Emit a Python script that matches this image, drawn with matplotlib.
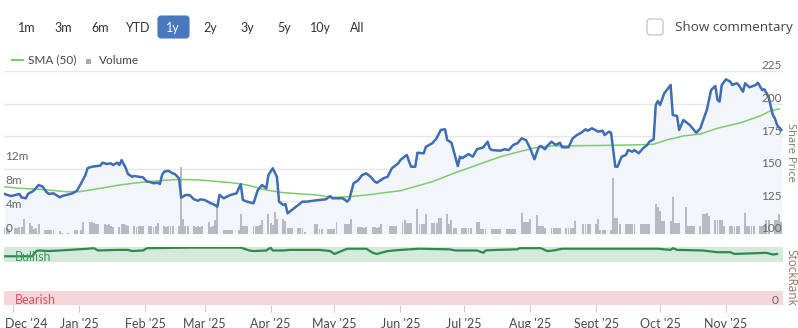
import matplotlib
matplotlib.use('Agg')
import matplotlib.pyplot as plt
import matplotlib.transforms as mtrans
from matplotlib.patches import FancyBboxPatch, Rectangle
from matplotlib.lines import Line2D
import pandas as pd

plt.rcParams['font.family'] = ['Lato', 'DejaVu Sans']

W, H = 798, 328

# closing share price (p)
price_dates = [
    '2024-11-27', '2024-11-30', '2024-12-02', '2024-12-04', '2024-12-05', '2024-12-07', '2024-12-08',
    '2024-12-09', '2024-12-10', '2024-12-11', '2024-12-13', '2024-12-15', '2024-12-16', '2024-12-17',
    '2024-12-18', '2024-12-20', '2024-12-22', '2024-12-23', '2024-12-24', '2024-12-26', '2024-12-29',
    '2024-12-31', '2025-01-02', '2025-01-04', '2025-01-05', '2025-01-07', '2025-01-11', '2025-01-12',
    '2025-01-14', '2025-01-16', '2025-01-17', '2025-01-19', '2025-01-20', '2025-01-21', '2025-01-23',
    '2025-01-24', '2025-01-26', '2025-01-27', '2025-01-29', '2025-01-31', '2025-02-02', '2025-02-03',
    '2025-02-05', '2025-02-07', '2025-02-08', '2025-02-09', '2025-02-10', '2025-02-12', '2025-02-14',
    '2025-02-15', '2025-02-17', '2025-02-18', '2025-02-20', '2025-02-22', '2025-02-24', '2025-02-26',
    '2025-02-27', '2025-03-01', '2025-03-04', '2025-03-05', '2025-03-07', '2025-03-08', '2025-03-10',
    '2025-03-13', '2025-03-16', '2025-03-18', '2025-03-19', '2025-03-21', '2025-03-24', '2025-03-26',
    '2025-03-28', '2025-03-30', '2025-03-31', '2025-04-02', '2025-04-04', '2025-04-05', '2025-04-07',
    '2025-04-08', '2025-04-09', '2025-04-12', '2025-04-13', '2025-04-16', '2025-04-18', '2025-04-21',
    '2025-04-24', '2025-04-27', '2025-04-29', '2025-04-30', '2025-05-03', '2025-05-05', '2025-05-07',
    '2025-05-08', '2025-05-10', '2025-05-12', '2025-05-14', '2025-05-16', '2025-05-18', '2025-05-20',
    '2025-05-21', '2025-05-24', '2025-05-26', '2025-05-28', '2025-05-31', '2025-06-01', '2025-06-04',
    '2025-06-06', '2025-06-08', '2025-06-09', '2025-06-12', '2025-06-13', '2025-06-16', '2025-06-18',
    '2025-06-20', '2025-06-22', '2025-06-23', '2025-06-25', '2025-06-28', '2025-06-29', '2025-06-30',
    '2025-07-03', '2025-07-05', '2025-07-07', '2025-07-10', '2025-07-12', '2025-07-13', '2025-07-14',
    '2025-07-18', '2025-07-20', '2025-07-22', '2025-07-24', '2025-07-26', '2025-07-28', '2025-07-30',
    '2025-08-01', '2025-08-03', '2025-08-05', '2025-08-06', '2025-08-08', '2025-08-09', '2025-08-11',
    '2025-08-13', '2025-08-15', '2025-08-16', '2025-08-19', '2025-08-21', '2025-08-23', '2025-08-25',
    '2025-08-27', '2025-08-28', '2025-08-30', '2025-09-02', '2025-09-04', '2025-09-05', '2025-09-07',
    '2025-09-08', '2025-09-10', '2025-09-11', '2025-09-13', '2025-09-15', '2025-09-16', '2025-09-18',
    '2025-09-19', '2025-09-21', '2025-09-23', '2025-09-25', '2025-09-26', '2025-09-28', '2025-09-29',
    '2025-09-30', '2025-10-01', '2025-10-03', '2025-10-06', '2025-10-07', '2025-10-09', '2025-10-10',
    '2025-10-12', '2025-10-15', '2025-10-18', '2025-10-20', '2025-10-21', '2025-10-23', '2025-10-25',
    '2025-10-27', '2025-10-28', '2025-10-29', '2025-10-30', '2025-11-01', '2025-11-03', '2025-11-04',
    '2025-11-06', '2025-11-07', '2025-11-09', '2025-11-10', '2025-11-12', '2025-11-15', '2025-11-16',
    '2025-11-18', '2025-11-19', '2025-11-21', '2025-11-23', '2025-11-24', '2025-11-25', '2025-11-27',
]
price_close = [
    130.7, 129.1, 129.9, 130.7, 128.1, 127.4, 130.7,
    131.7, 132.4, 133.7, 137.6, 136.3, 133.7, 131.7,
    130.7, 131.2, 129.1, 128.1, 129.1, 129.9, 131.2,
    133.2, 138.9, 145.2, 150.4, 151.6, 152.4, 154.7,
    153.7, 154.2, 152.9, 154.7, 152.9, 156.7, 150.4,
    146.0, 143.9, 144.5, 143.9, 143.5, 140.1, 140.1,
    138.9, 139.3, 138.3, 145.2, 147.8, 148.5, 146.5,
    146.0, 142.7, 127.8, 129.9, 129.9, 126.6, 125.5,
    126.6, 126.1, 123.5, 123.0, 120.9, 129.9, 127.4,
    129.9, 131.2, 138.3, 126.1, 124.8, 123.5, 133.7,
    137.6, 135.0, 145.2, 150.4, 143.9, 124.8, 122.2,
    123.0, 115.9, 119.7, 120.9, 124.8, 124.8, 125.5,
    126.1, 126.6, 129.1, 127.4, 127.4, 127.4, 124.8,
    126.6, 138.9, 140.9, 145.2, 146.5, 143.9, 140.1,
    139.3, 142.7, 143.9, 150.4, 154.2, 156.7, 160.6,
    151.6, 151.6, 162.3, 161.9, 166.9, 169.6, 173.4,
    179.8, 180.3, 172.1, 170.0, 152.1, 159.3, 158.1,
    161.3, 159.3, 165.0, 166.5, 170.8, 165.7, 164.4,
    163.9, 165.0, 164.4, 168.3, 169.6, 173.4, 172.1,
    165.7, 157.3, 166.5, 167.5, 165.0, 167.5, 170.8,
    168.3, 170.0, 166.5, 166.5, 173.4, 175.9, 177.7,
    180.3, 179.2, 181.1, 178.5, 179.2, 175.9, 178.5,
    177.7, 151.6, 151.6, 159.3, 160.6, 164.4, 163.1,
    164.4, 161.9, 165.7, 168.3, 170.8, 172.6, 198.9,
    202.0, 198.9, 207.9, 214.3, 191.3, 190.5, 179.8,
    187.4, 183.6, 177.7, 181.1, 186.1, 195.1, 210.4,
    213.5, 202.8, 201.5, 214.3, 218.6, 216.8, 214.3,
    215.6, 214.3, 209.1, 215.6, 212.5, 214.3, 216.0,
    210.4, 211.0, 205.3, 191.3, 188.7, 183.6, 179.8,
]

# 50-day simple moving average
sma_dates = [
    '2024-11-27', '2024-12-04', '2024-12-14', '2024-12-26', '2025-01-01', '2025-01-11', '2025-01-20',
    '2025-01-30', '2025-02-08', '2025-02-17', '2025-02-27', '2025-03-14', '2025-03-21', '2025-03-30',
    '2025-04-07', '2025-04-23', '2025-04-30', '2025-05-08', '2025-05-16', '2025-06-01', '2025-06-16',
    '2025-06-26', '2025-07-18', '2025-08-02', '2025-08-10', '2025-09-03', '2025-09-18', '2025-09-28',
    '2025-10-04', '2025-10-12', '2025-10-20', '2025-10-28', '2025-11-08', '2025-11-17', '2025-11-22',
    '2025-11-26',
]
sma_50 = [
    136.3, 135.0, 134.3, 132.4, 132.4, 135.0, 137.6,
    139.6, 140.9, 141.9, 141.4, 139.3, 137.6, 133.7,
    131.7, 129.9, 128.1, 128.6, 129.9, 133.2, 140.1,
    146.5, 159.3, 165.7, 167.5, 167.9, 168.3, 168.8,
    172.1, 175.2, 176.7, 181.1, 185.4, 190.5, 194.6,
    195.9,
]

# daily traded volume (millions of shares), one per business day
volume_dates = pd.bdate_range('2024-11-27', '2025-11-27')
volume_m = [
    1.0, 1.0, 0.9,
    1.0, 1.0, 1.1, 1.2, 2.5,   1.9, 1.4, 0.8, 1.0, 1.7,   0.6, 0.6, 0.6, 0.7, 0.6,
    0.5, 0.2, 0.0, 0.0, 0.2,   0.6, 0.6, 0.0, 0.6, 2.0,   2.0, 2.0, 1.9, 1.6, 1.6,
    1.6, 1.5, 1.6, 1.4, 1.2,   1.2, 1.7, 1.7, 1.5, 1.3,   1.3, 1.2, 1.4, 1.3, 1.3,
    1.3, 1.4, 1.2, 1.3, 1.9,   1.3, 1.2, 1.3, 1.4, 1.3,   1.3, 11.1, 2.5, 1.4, 1.3,
    1.3, 1.2, 1.3, 1.1, 1.3,   2.0, 1.2, 1.3, 2.3, 5.0,   0.7, 0.7, 0.6, 0.7, 0.7,
    0.7, 3.3, 1.4, 1.4, 1.3,   1.4, 1.4, 1.3, 1.5, 2.4,   3.3, 1.9, 1.5, 3.6, 2.5,
    2.5, 2.1, 1.0, 1.0, 1.0,   1.0, 1.0, 1.0, 0.4, 0.0,   0.0, 1.7, 1.7, 0.9, 0.9,
    0.9, 0.9, 0.9, 0.9, 2.0,   0.0, 1.7, 1.7, 1.7, 2.5,   1.1, 1.1, 1.1, 1.0, 1.1,
    1.1, 1.1, 1.0, 1.1, 1.6,   0.0, 1.3, 1.3, 1.3, 1.3,   1.9, 2.4, 1.9, 1.9, 1.8,
    4.1, 1.6, 1.6, 1.6, 3.3,   1.9, 1.9, 1.9, 2.7, 2.7,   3.3, 1.6, 2.4, 1.0, 1.0,
    1.0, 1.0, 1.0, 1.0, 1.0,   2.0, 2.0, 0.8, 0.8, 0.8,   0.8, 0.8, 0.8, 0.8, 0.8,
    0.8, 0.8, 0.8, 0.8, 0.8,   3.5, 2.0, 2.0, 2.0, 2.5,   3.2, 1.3, 1.3, 1.3, 1.0,
    1.0, 1.0, 1.0, 1.0, 1.0,   1.0, 1.0, 1.0, 1.0, 2.1,   0.0, 1.6, 1.6, 1.6, 1.6,
    1.6, 2.5, 0.7, 0.7, 0.7,   0.7, 9.4, 2.7, 2.7, 1.6,   1.6, 1.6, 1.6, 1.6, 1.6,
    1.6, 1.6, 1.6, 1.6, 1.6,   5.0, 4.5, 3.9, 2.1, 2.1,   2.1, 6.2, 1.9, 1.9, 1.9,
    4.5, 1.3, 1.3, 1.3, 1.3,   1.3, 3.3, 3.3, 3.5, 3.0,   2.4, 2.4, 2.4, 2.4, 1.3,
    1.3, 1.3, 1.3, 1.3, 1.3,   3.5, 1.3, 1.3, 1.3, 1.3,   1.3, 1.3, 1.3, 2.4, 2.4,
    2.4, 2.4, 3.3, 2.0,
]

# StockRank score (0-100)
rank_dates = [
    '2024-11-27', '2024-12-01', '2024-12-10', '2024-12-12', '2024-12-13', '2024-12-18', '2024-12-23',
    '2025-01-05', '2025-01-08', '2025-01-10', '2025-01-19', '2025-01-24', '2025-01-26', '2025-01-31',
    '2025-02-02', '2025-02-24', '2025-03-18', '2025-03-22', '2025-03-24', '2025-03-30', '2025-04-01',
    '2025-04-02', '2025-04-07', '2025-04-10', '2025-04-24', '2025-04-29', '2025-05-01', '2025-05-03',
    '2025-05-07', '2025-05-16', '2025-05-19', '2025-05-21', '2025-05-26', '2025-06-01', '2025-06-10',
    '2025-06-24', '2025-06-27', '2025-07-07', '2025-07-10', '2025-07-11', '2025-07-16', '2025-07-26',
    '2025-07-27', '2025-08-06', '2025-08-09', '2025-08-12', '2025-08-16', '2025-09-18', '2025-09-30',
    '2025-10-06', '2025-10-07', '2025-10-09', '2025-10-21', '2025-10-28', '2025-11-03', '2025-11-05',
    '2025-11-20', '2025-11-23', '2025-11-25',
]
stock_rank = [
    84, 84, 84, 93, 94, 93, 94,
    97, 98, 94, 95, 95, 93, 94,
    98, 99, 99, 94, 93, 94, 99,
    94, 94, 95, 95, 93, 88, 91,
    97, 97, 90, 88, 93, 95, 97,
    96, 94, 94, 90, 94, 95, 96,
    98, 98, 93, 94, 97, 97, 97,
    95, 98, 95, 94, 91, 91, 88,
    90, 87, 88,
]

price_ticks = [100, 125, 150, 175, 200, 225]
volume_ticks = [0, 4, 8, 12]
month_starts = pd.date_range('2024-12-01', '2025-11-01', freq='MS')
month_labels = ["Dec '24", "Jan '25", "Feb '25", "Mar '25", "Apr '25", "May '25",
                "Jun '25", "Jul '25", "Aug '25", "Sept '25", "Oct '25", "Nov '25"]
ranges = ['1m', '3m', '6m', 'YTD', '1y', '2y', '3y', '5y', '10y', 'All']
range_x = [27, 63, 100, 137, 173, 210, 247, 284, 320, 357]

BLUE = '#3e6db4'
GREEN_SMA = '#7ccb72'
BAR = '#b6b9c1'
GRID = '#e6e6e6'
LABEL = '#666666'
OPEN = ['Open Sans', 'DejaVu Sans']


def fx(x):
    return x / W


def fy(y):
    return 1 - y / H


fig = plt.figure(figsize=(W / 100, H / 100), dpi=100)
fig.patch.set_facecolor('white')

main_rect = [fx(4), fy(234), (783 - 4) / W, (234 - 71) / H]
rank_rect = [fx(4), fy(305), (783 - 4) / W, (305 - 247) / H]
xlo, xhi = pd.Timestamp('2024-11-26 18:00'), pd.Timestamp('2025-11-27 19:00')

pdates = pd.to_datetime(price_dates)

# background: gridlines and the shaded area under the price
ax_bg = fig.add_axes(main_rect)
ax_bg.set_xlim(xlo, xhi)
ax_bg.set_ylim(100, 225)
for v in price_ticks:
    ax_bg.axhline(v, color=GRID, lw=1, zorder=0)
ax_bg.fill_between(pdates, price_close, 100, color='#f2f5fa', lw=0, zorder=1)
ax_bg.axis('off')

# volume bars on their own scale (6 px per million)
ax_vol = fig.add_axes(main_rect, sharex=ax_bg)
ax_vol.set_ylim(0, (234 - 71) / 6)
ax_vol.bar(volume_dates, volume_m, width=0.9, color=BAR, lw=0)
ax_vol.axis('off')

# price and moving average on top
ax_px = fig.add_axes(main_rect, sharex=ax_bg, sharey=ax_bg)
ax_px.plot(pd.to_datetime(sma_dates), sma_50, color=GREEN_SMA, lw=1.1)
ax_px.plot(pdates, price_close, color=BLUE, lw=1.8, solid_joinstyle='round')
ax_px.axis('off')

up = mtrans.ScaledTranslation(0, 1.5 / 100, fig.dpi_scale_trans)
tr_right = mtrans.blended_transform_factory(ax_px.transAxes, ax_px.transData)
for v in price_ticks:
    ax_px.text(1 - 1.5 / 779, v, str(v), transform=tr_right + up, ha='right', va='baseline',
               fontsize=8.5, color=LABEL)
tr_left = mtrans.blended_transform_factory(ax_vol.transAxes, ax_vol.transData)
for v in volume_ticks:
    ax_vol.text(1.5 / 779, v, '0' if v == 0 else f'{v}m', transform=tr_left + up, ha='left',
                va='baseline', fontsize=8.5, color=LABEL)

# StockRank panel
ax_rank = fig.add_axes(rank_rect, sharex=ax_bg)
ax_rank.set_ylim(0, 100)
ax_rank.axhspan(75, 100, color='#d5eadc', lw=0)
ax_rank.axhspan(0, 25, color='#f6d6d9', lw=0)
ax_rank.plot(pd.to_datetime(rank_dates), stock_rank, color='#2e8b4b', lw=1.6)
tr_rank = mtrans.blended_transform_factory(ax_rank.transAxes, ax_rank.transData)
ax_rank.text(11 / 779, 83, 'Bullish', transform=tr_rank, ha='left', va='center',
             fontsize=9, color='#3a9a58')
ax_rank.text(11 / 779, 9, 'Bearish', transform=tr_rank, ha='left', va='center',
             fontsize=9, color='#e04f5c')
ax_rank.text(1 - 4 / 779, 0, '0', transform=tr_rank + up, ha='right', va='baseline',
             fontsize=8.5, color=LABEL)
for s in ax_rank.spines.values():
    s.set_visible(False)
ax_rank.set_yticks([])
ax_rank.set_xticks(month_starts)
ax_rank.set_xticklabels(month_labels, fontsize=9, color='#4a4a4a')
ax_rank.tick_params(axis='x', length=5, width=0.8, color='#cccccc', pad=4)
first = ax_rank.get_xticklabels()[0]
first.set_ha('left')
first.set_transform(first.get_transform() + mtrans.ScaledTranslation(-8 / 100, 0, fig.dpi_scale_trans))
ax_rank.set_xlim(xlo, xhi)

# axis titles on the right
fig.text(fx(790.5), fy(152), 'Share Price', rotation=270, ha='center', va='center',
         fontsize=8, color='#877563', family=OPEN)
fig.text(fx(790.5), fy(277), 'StockRank', rotation=270, ha='center', va='center',
         fontsize=8.5, color='#877563', family=OPEN)

# range selector buttons
ins = fig.dpi_scale_trans
fig.patches.append(FancyBboxPatch((158 / 100, (H - 38) / 100), 31 / 100, 22 / 100,
                                  boxstyle='round,pad=0,rounding_size=0.03', transform=ins,
                                  facecolor='#4a78c0', edgecolor='#4a78c0', lw=0.8))
for lab, x in zip(ranges, range_x):
    fig.text(fx(x), fy(27.5), lab, ha='center', va='center', fontsize=9,
             color='white' if lab == '1y' else '#333333')

# commentary toggle
fig.patches.append(FancyBboxPatch((647 / 100, (H - 35) / 100), 16 / 100, 16 / 100,
                                  boxstyle='round,pad=0,rounding_size=0.03', transform=ins,
                                  facecolor='white', edgecolor='#c4c4c4', lw=0.9))
fig.text(fx(675), fy(27), 'Show commentary', ha='left', va='center', fontsize=9.7,
         color='#444444', family=OPEN)

# legend
fig.add_artist(Line2D([fx(12), fx(23)], [fy(60), fy(60)], color=GREEN_SMA, lw=1.5))
fig.text(fx(28), fy(60), 'SMA (50)', ha='left', va='center', fontsize=8.5, color='#444444')
fig.patches.append(Rectangle((86 / 100, (H - 63.5) / 100), 5 / 100, 5 / 100, transform=ins,
                             facecolor='#a9acb3', edgecolor='none'))
fig.text(fx(99), fy(60), 'Volume', ha='left', va='center', fontsize=8.5, color='#444444')

fig.savefig('out.png', dpi=100)
